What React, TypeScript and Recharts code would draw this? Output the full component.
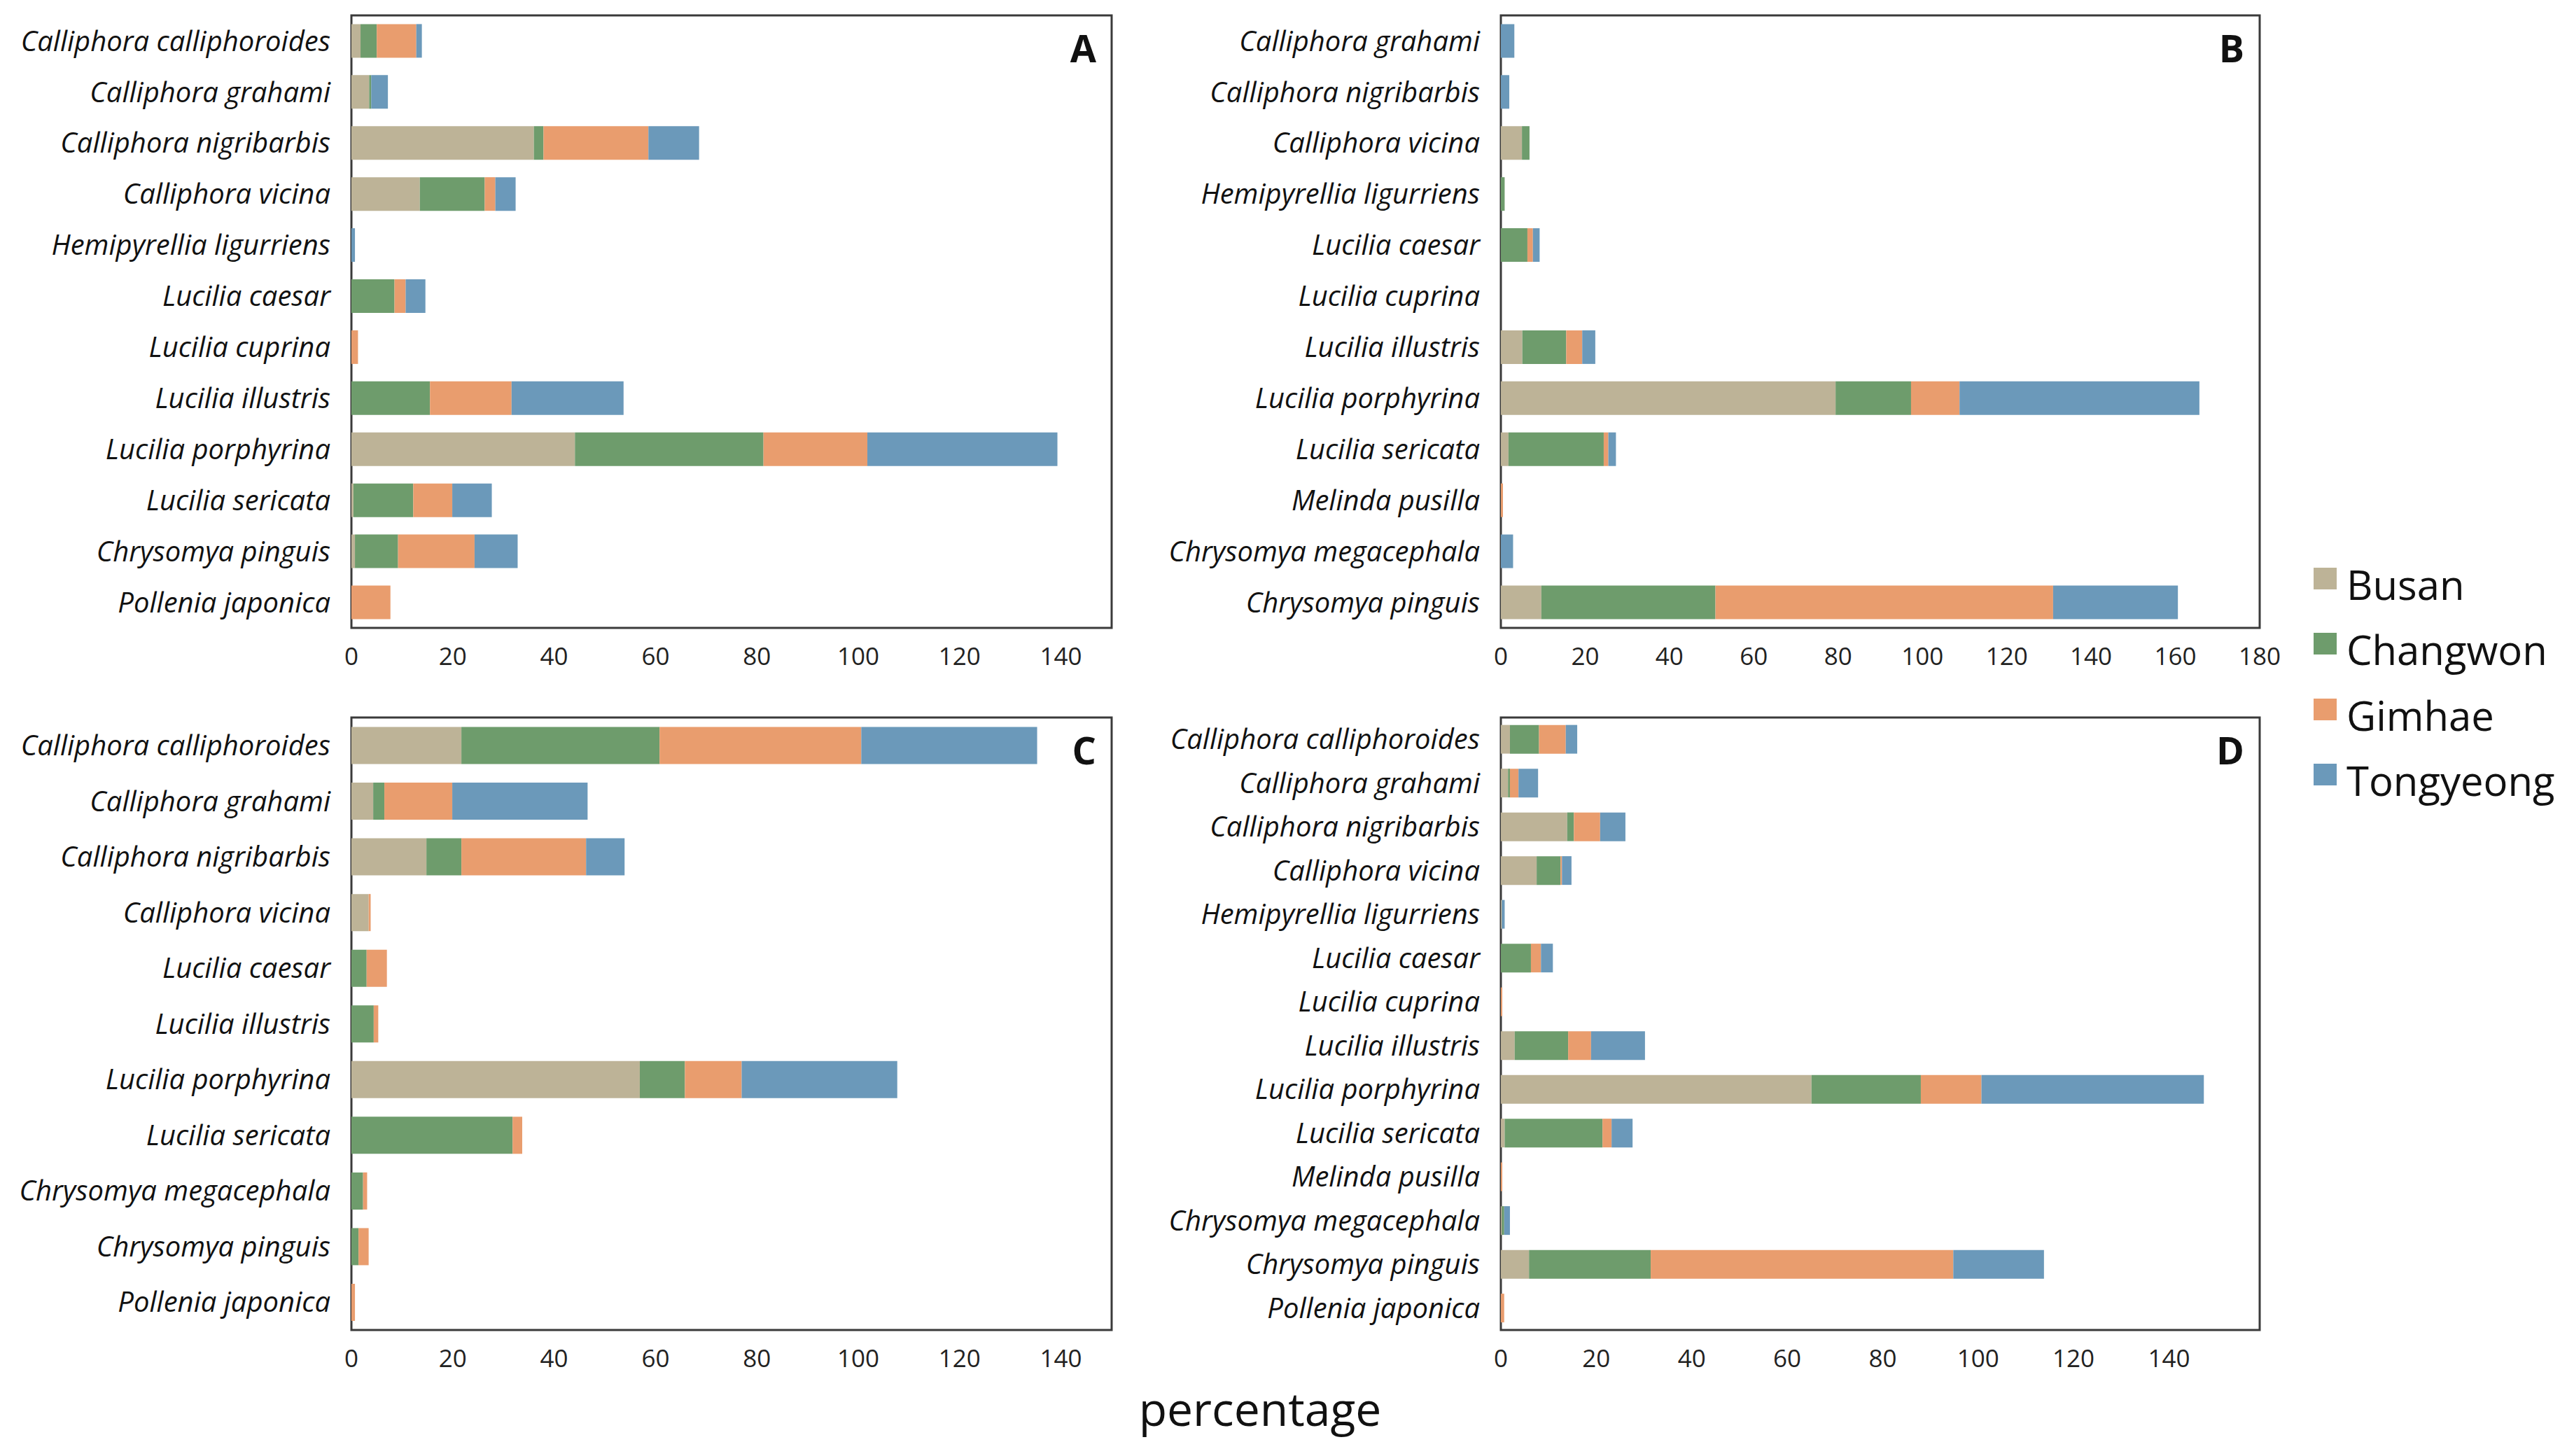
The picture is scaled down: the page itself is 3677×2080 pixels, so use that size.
import React from 'react'
import { BarChart, Bar, XAxis, YAxis, ReferenceArea } from 'recharts'

// site order and colours
const sites = ['Busan', 'Changwon', 'Gimhae', 'Tongyeong']
const siteColors = ['#bdb397', '#6e9c6c', '#e99d6e', '#6b99ba']

// panel A
const aSpecies = [
  'Calliphora calliphoroides', 'Calliphora grahami', 'Calliphora nigribarbis', 'Calliphora vicina',
  'Hemipyrellia ligurriens', 'Lucilia caesar', 'Lucilia cuprina', 'Lucilia illustris',
  'Lucilia porphyrina', 'Lucilia sericata', 'Chrysomya pinguis', 'Pollenia japonica',
]
const aBusan = [1.8, 3.5, 36.0, 13.5, 0, 0, 0, 0, 44.1, 0.4, 0.7, 0]
const aChangwon = [3.2, 0.4, 1.9, 12.8, 0, 8.5, 0, 15.5, 37.2, 11.8, 8.5, 0]
const aGimhae = [7.8, 0, 20.7, 2.1, 0, 2.2, 1.3, 16.1, 20.5, 7.7, 15.1, 7.7]
const aTongyeong = [1.1, 3.3, 10.0, 4.0, 0.7, 3.9, 0, 22.1, 37.5, 7.8, 8.5, 0]

// panel B
const bSpecies = [
  'Calliphora grahami', 'Calliphora nigribarbis', 'Calliphora vicina', 'Hemipyrellia ligurriens',
  'Lucilia caesar', 'Lucilia cuprina', 'Lucilia illustris', 'Lucilia porphyrina',
  'Lucilia sericata', 'Melinda pusilla', 'Chrysomya megacephala', 'Chrysomya pinguis',
]
const bBusan = [0, 0, 5.0, 0, 0, 0, 5.1, 79.4, 1.8, 0, 0, 9.6]
const bChangwon = [0, 0, 1.8, 0.9, 6.3, 0, 10.4, 17.9, 22.6, 0, 0, 41.3]
const bGimhae = [0, 0, 0, 0, 1.3, 0, 3.8, 11.5, 1.1, 0.5, 0, 80.1]
const bTongyeong = [3.2, 2.0, 0, 0, 1.6, 0, 3.1, 56.9, 1.8, 0, 2.9, 29.6]

// panel C
const cSpecies = [
  'Calliphora calliphoroides', 'Calliphora grahami', 'Calliphora nigribarbis', 'Calliphora vicina',
  'Lucilia caesar', 'Lucilia illustris', 'Lucilia porphyrina', 'Lucilia sericata',
  'Chrysomya megacephala', 'Chrysomya pinguis', 'Pollenia japonica',
]
const cBusan = [21.7, 4.3, 14.8, 3.4, 0, 0, 56.9, 0, 0, 0, 0]
const cChangwon = [39.1, 2.2, 6.9, 0, 3.0, 4.4, 8.9, 31.8, 2.3, 1.4, 0]
const cGimhae = [39.8, 13.4, 24.6, 0.4, 4.0, 0.9, 11.2, 1.9, 0.8, 2.0, 0.7]
const cTongyeong = [34.7, 26.7, 7.6, 0, 0, 0, 30.7, 0, 0, 0, 0]

// panel D
const dSpecies = [
  'Calliphora calliphoroides', 'Calliphora grahami', 'Calliphora nigribarbis', 'Calliphora vicina',
  'Hemipyrellia ligurriens', 'Lucilia caesar', 'Lucilia cuprina', 'Lucilia illustris',
  'Lucilia porphyrina', 'Lucilia sericata', 'Melinda pusilla', 'Chrysomya megacephala',
  'Chrysomya pinguis', 'Pollenia japonica',
]
const dBusan = [1.9, 1.5, 13.9, 7.5, 0.2, 0, 0, 2.9, 65.1, 0.8, 0, 0.2, 5.9, 0]
const dChangwon = [6.1, 0.4, 1.4, 5.0, 0, 6.3, 0, 11.2, 22.9, 20.5, 0, 0.5, 25.5, 0]
const dGimhae = [5.6, 1.8, 5.5, 0.3, 0, 2.1, 0.3, 4.8, 12.7, 1.9, 0.3, 0, 63.4, 0.7]
const dTongyeong = [2.4, 4.1, 5.3, 2.0, 0.6, 2.5, 0, 11.3, 46.6, 4.4, 0, 1.2, 19.0, 0]

const ticks140 = [0, 20, 40, 60, 80, 100, 120, 140]
const ticks180 = [0, 20, 40, 60, 80, 100, 120, 140, 160, 180]

const FONT = '"Open Sans", "Noto Sans", sans-serif'
const BORDER = '#3a3a3a'

function buildRows(species: string[], values: number[][]) {
  return species.map((name, i) => {
    const row: Record<string, string | number> = { name }
    sites.forEach((s, k) => {
      row[s] = values[k][i]
    })
    return row
  })
}

const panels = [
  { letter: 'A', left: 0, top: 0, yWidth: 502, right: 32, max: 150, ticks: ticks140,
    rows: buildRows(aSpecies, [aBusan, aChangwon, aGimhae, aTongyeong]) },
  { letter: 'B', left: 1650, top: 0, yWidth: 494, right: 42, max: 180, ticks: ticks180,
    rows: buildRows(bSpecies, [bBusan, bChangwon, bGimhae, bTongyeong]) },
  { letter: 'C', left: 0, top: 1003, yWidth: 502, right: 32, max: 150, ticks: ticks140,
    rows: buildRows(cSpecies, [cBusan, cChangwon, cGimhae, cTongyeong]) },
  { letter: 'D', left: 1650, top: 1003, yWidth: 494, right: 42, max: 159, ticks: ticks140,
    rows: buildRows(dSpecies, [dBusan, dChangwon, dGimhae, dTongyeong]) },
]

const CHART_W = 1620
const CHART_H = 1000
const M_TOP = 22
const M_BOTTOM = 43
const X_H = 60

function Panel({ p }: { p: (typeof panels)[number] }) {
  return (
    <div style={{ position: 'absolute', left: p.left, top: p.top }}>
      <BarChart
        width={CHART_W}
        height={CHART_H}
        data={p.rows}
        layout="vertical"
        margin={{ top: M_TOP, right: p.right, left: 0, bottom: M_BOTTOM }}
        barCategoryGap="17%"
      >
        <XAxis
          type="number"
          domain={[0, p.max]}
          ticks={p.ticks}
          allowDataOverflow
          height={X_H}
          tickLine={false}
          tickMargin={22}
          axisLine={false}
          tick={{ fontSize: 35, fill: '#222', fontFamily: FONT }}
        />
        <YAxis
          type="category"
          dataKey="name"
          width={p.yWidth}
          tickLine={false}
          tickMargin={24}
          interval={0}
          axisLine={false}
          tick={{ fontSize: 40, fill: '#111', fontFamily: FONT, fontStyle: 'italic' }}
        />
        {sites.map((s, k) => (
          <Bar
            key={s}
            dataKey={s}
            stackId="a"
            fill={siteColors[k]}
            isAnimationActive={false}
          />
        ))}
        <ReferenceArea
          x1={0}
          x2={p.max}
          fill="none"
          fillOpacity={0}
          stroke={BORDER}
          strokeWidth={3}
          ifOverflow="visible"
        />
      </BarChart>
      <div
        style={{
          position: 'absolute',
          right: p.right + 22,
          top: M_TOP + 19,
          fontFamily: FONT,
          fontWeight: 700,
          fontSize: 54,
          lineHeight: 1,
          color: '#111',
        }}
      >
        {p.letter}
      </div>
    </div>
  )
}

export default function App() {
  const legendBaselines = [858, 951, 1045, 1138]
  return (
    <div
      style={{
        position: 'absolute',
        left: 0,
        top: 0,
        width: 3677,
        height: 2080,
        background: '#fff',
        overflow: 'hidden',
      }}
    >
      {panels.map((p) => (
        <Panel key={p.letter} p={p} />
      ))}
      {sites.map((s, k) => (
        <React.Fragment key={s}>
          <div
            style={{
              position: 'absolute',
              left: 3305,
              top: legendBaselines[k] - 47,
              width: 33,
              height: 31,
              background: siteColors[k],
            }}
          />
          <div
            style={{
              position: 'absolute',
              left: 3352,
              top: legendBaselines[k] - 52,
              fontFamily: FONT,
              fontSize: 58,
              lineHeight: 1,
              color: '#111',
              whiteSpace: 'nowrap',
            }}
          >
            {s}
          </div>
        </React.Fragment>
      ))}
      <div
        style={{
          position: 'absolute',
          left: 1500,
          width: 600,
          top: 1978,
          textAlign: 'center',
          fontFamily: FONT,
          fontSize: 66,
          lineHeight: 1,
          color: '#111',
        }}
      >
        percentage
      </div>
    </div>
  )
}
